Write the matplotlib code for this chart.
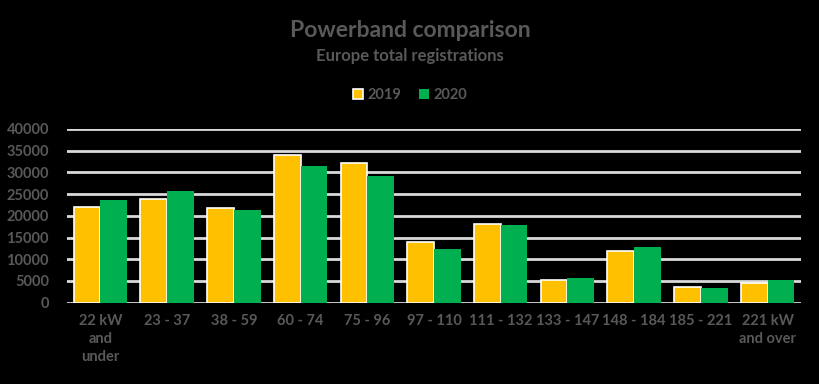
import matplotlib
matplotlib.use("Agg")
import matplotlib.pyplot as plt
import numpy as np

categories = ["22 kW\nand\nunder", "23 - 37", "38 - 59", "60 - 74", "75 - 96", "97 - 110",
              "111 - 132", "133 - 147", "148 - 184", "185 - 221", "221 kW\nand over"]
v2019 = [22000, 23800, 21800, 34000, 32100, 13900, 18100, 5200, 11900, 3550, 4550]
v2020 = [23700, 25700, 21400, 31500, 29200, 12400, 17850, 5600, 12850, 3300, 5150]
yticks = [0, 5000, 10000, 15000, 20000, 25000, 30000, 35000, 40000]

plt.rcParams['font.family'] = ['Lato', 'DejaVu Sans']
gray = "#595959"
grid = "#d9d9d9"

fig = plt.figure(figsize=(8.2, 3.84), dpi=100, facecolor="black")
ax = fig.add_axes([67/820, 1-302.7/384, (801-67)/820, (302.7-129)/384], facecolor="black")

x = np.arange(len(categories))
w = 0.4
ax.bar(x - w/2, v2019, w, color="#ffc000", edgecolor="white", linewidth=1.2, label="2019", zorder=3)
ax.bar(x + w/2, v2020, w, color="#00b050", edgecolor="none", label="2020", zorder=3)

ax.set_ylim(0, 40000)
ax.set_xlim(-0.5, len(categories) - 0.5)
ax.set_yticks(yticks)
ax.set_yticklabels([str(t) for t in yticks])
ax.set_xticks(x)
ax.set_xticklabels(categories)
ax.yaxis.grid(True, color=grid, linewidth=2, zorder=0)
for s in ax.spines.values():
    s.set_visible(False)
ax.tick_params(axis='both', length=0, colors=gray, labelsize=10.5)
ax.tick_params(axis='y', pad=13)
ax.tick_params(axis='x', pad=8)
for lab in ax.get_xticklabels() + ax.get_yticklabels():
    lab.set_fontweight('bold')
    lab.set_linespacing(1.35)

fig.text(0.5, 1-30.5/384, "Powerband comparison", ha="center", va="center",
         color=gray, fontsize=16.5, fontweight="bold")
fig.text(0.5, 1-56.5/384, "Europe total registrations", ha="center", va="center",
         color=gray, fontsize=12, fontweight="bold")

leg = fig.legend(loc="center", bbox_to_anchor=(0.5, 1-95/384), ncol=2, frameon=False,
                 fontsize=10.5, handlelength=0.7, handleheight=0.7, handletextpad=0.3,
                 columnspacing=1.2)
for t in leg.get_texts():
    t.set_color(gray)
    t.set_fontweight('bold')

fig.savefig("out.png", dpi=100, facecolor="black")
